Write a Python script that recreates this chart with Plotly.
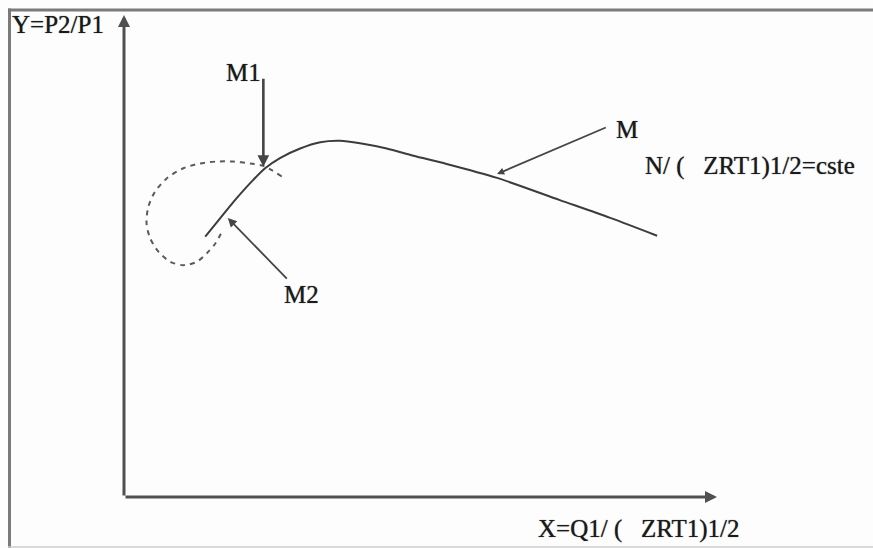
import plotly.graph_objects as go

# Characteristic curve M (solid), in normalised diagram units (axes run 0..10)
curve_x = [1.37, 1.62, 1.90, 2.18, 2.38, 2.63, 2.97, 3.31, 3.64, 3.98, 4.43, 4.88, 5.44, 6.29, 7.35, 8.20, 8.99]
curve_y = [5.40, 5.78, 6.20, 6.58, 6.82, 7.03, 7.23, 7.36, 7.39, 7.34, 7.23, 7.08, 6.91, 6.62, 6.16, 5.79, 5.42]

# Surge loop between M1 and M2 (dashed)
loop_x = [2.66, 2.49, 2.35, 2.13, 1.84, 1.56, 1.28, 1.00, 0.72, 0.52, 0.41, 0.38, 0.44, 0.58, 0.78, 1.00, 1.23, 1.40, 1.54, 1.65]
loop_y = [6.65, 6.78, 6.87, 6.92, 6.96, 6.96, 6.92, 6.82, 6.61, 6.33, 6.02, 5.68, 5.37, 5.09, 4.88, 4.81, 4.88, 5.06, 5.26, 5.50]

# Labelled points: name, target (x, y), arrow tail (x, y)
point_names = ["M1", "M", "M2"]
point_target_x = [2.35, 6.29, 1.75]
point_target_y = [6.85, 6.70, 5.79]
point_tail_x = [2.35, 8.15, 2.77]
point_tail_y = [8.71, 7.68, 4.50]

y_title = "Y=P2/P1"
x_title = "X=Q1/ (\u00a0\u00a0\u00a0ZRT1)1/2"
speed_note = "N/ (\u00a0\u00a0\u00a0ZRT1)1/2=cste"

W, H = 873, 548
# plotting window of the diagram axes, in page pixels
X0, X1, Y0, Y1 = 124, 717, 497, 15

FONT = dict(family="Liberation Serif", size=25, color="#1a1a1a",
            shadow="0px 0px 1px #555555")

fig = go.Figure()
fig.add_trace(go.Scatter(x=curve_x, y=curve_y, mode="lines",
                         line=dict(color="#3c3c3c", width=2, shape="spline", smoothing=0.8),
                         hoverinfo="skip", showlegend=False))
fig.add_trace(go.Scatter(x=loop_x, y=loop_y, mode="lines",
                         line=dict(color="#5a5a5a", width=2, dash="5px,5px",
                                   shape="spline", smoothing=0.8),
                         hoverinfo="skip", showlegend=False))


def band(x0, x1, y0, y1, color):
    """Filled strip on the full-page pixel layer, used for the page frame."""
    return go.Scatter(x=[x0, x1, x1, x0, x0], y=[y0, y0, y1, y1, y0], mode="lines",
                      fill="toself", fillcolor=color, line=dict(width=0, color=color),
                      xaxis="x2", yaxis="y2", hoverinfo="skip", showlegend=False)


# Page frame: left and top edges, faint bottom edge
fig.add_trace(band(8, 11, 8.5, 548, "#7a7a7a"))
fig.add_trace(band(8, 873, 8.5, 11.5, "#7a7a7a"))
fig.add_trace(band(8, 873, 546.2, 547.8, "#cccccc"))

annotations = []
# Axes drawn as arrows from the origin
annotations.append(dict(x=0, y=10, ax=0, ay=0, xref="x", yref="y", axref="x", ayref="y",
                        text="", showarrow=True, arrowhead=2, arrowsize=0.8,
                        arrowwidth=3, arrowcolor="#505050"))
annotations.append(dict(x=10, y=0, ax=0, ay=0, xref="x", yref="y", axref="x", ayref="y",
                        text="", showarrow=True, arrowhead=2, arrowsize=0.8,
                        arrowwidth=3, arrowcolor="#505050"))

# Pointer arrows to the named operating points
arrow_sizes = [0.9, 0.8, 1.0]
arrow_widths = [2.6, 1.8, 1.8]
for i, name in enumerate(point_names):
    annotations.append(dict(x=point_target_x[i], y=point_target_y[i],
                            ax=point_tail_x[i], ay=point_tail_y[i],
                            xref="x", yref="y", axref="x", ayref="y",
                            text="", showarrow=True, arrowhead=2,
                            arrowsize=arrow_sizes[i], arrowwidth=arrow_widths[i],
                            arrowcolor="#454545"))

# Text labels, placed in page pixels
labels = [
    (y_title, 10, 24),
    ("M1", 224, 72),
    ("M", 614, 129),
    (speed_note, 643, 166),
    ("M2", 282, 294),
    (x_title, 536, 529),
]
for txt, lx, ly in labels:
    annotations.append(dict(x=lx, y=ly, xref="x2", yref="y2",
                            text=txt, showarrow=False, xanchor="left", yanchor="middle",
                            font=FONT))

fig.update_layout(
    width=W, height=H,
    margin=dict(l=0, r=0, t=0, b=0),
    paper_bgcolor="#fdfdfd", plot_bgcolor="rgba(0,0,0,0)",
    xaxis=dict(domain=[X0 / W, X1 / W], range=[0, 10], visible=False, fixedrange=True),
    yaxis=dict(domain=[(H - Y0) / H, (H - Y1) / H], range=[0, 10], visible=False, fixedrange=True),
    xaxis2=dict(domain=[0, 1], range=[0, W], visible=False, fixedrange=True, anchor="y2"),
    yaxis2=dict(domain=[0, 1], range=[H, 0], visible=False, fixedrange=True, anchor="x2"),
    annotations=annotations,
    showlegend=False,
)

# keep the page exactly one figure in size (no body margin, no scrollbars)
page_css = ("document.body.style.margin='0';"
            "document.body.style.overflow='hidden';"
            "document.documentElement.style.overflow='hidden';")

fig.write_html("out.html", config={"displayModeBar": False}, post_script=page_css)
